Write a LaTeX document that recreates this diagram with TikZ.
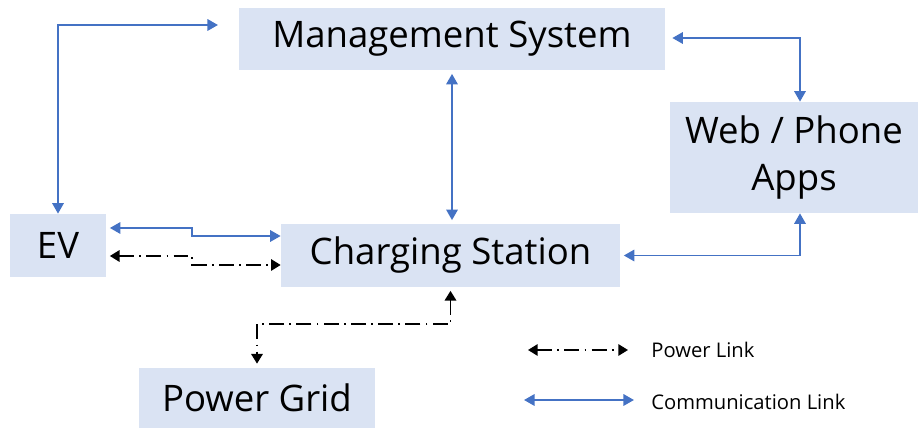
\documentclass[tikz,border=0pt]{standalone}
\usepackage{fontspec}
\setmainfont{Open Sans}
\usepackage{tikz}
\usetikzlibrary{arrows.meta,positioning}
\definecolor{boxfill}{HTML}{DAE3F3}
\definecolor{linkblue}{HTML}{4472C4}

\begin{document}
\begin{tikzpicture}[x=0.02cm, y=-0.02cm]
    % Setup the styles for the blocks and the links
    \tikzset{block style/.style={
        fill=boxfill,
        inner sep=0pt,
        align=center,
        font=\fontsize{20.8}{26}\selectfont},
      comm link/.style={
        draw=linkblue,
        line width=1.1pt,
        {Triangle[width=6.5pt,length=6pt]}-{Triangle[width=6.5pt,length=6pt]}},
      power link/.style={
        draw=black,
        line width=1pt,
        dash pattern=on 8.5pt off 3pt on 1pt off 3pt,
        {Triangle[width=6.5pt,length=5.5pt]}-{Triangle[width=6.5pt,length=5.5pt]}},
      legend text/.style={
        anchor=west,
        inner sep=0pt,
        font=\fontsize{11.5}{14}\selectfont}}
    \useasboundingbox (0,0) rectangle (920,428);

    % Draw the blocks
    \node[block style, minimum width=8.52cm, minimum height=1.24cm] at (452, 39)    (mgmt) {Management System};
    \node[block style, minimum width=4.96cm, minimum height=2.22cm] at (794, 157.5) (web)  {Web / Phone\\[1pt]Apps};
    \node[block style, minimum width=1.92cm, minimum height=1.26cm] at (58, 245.5)  (ev)   {EV};
    \node[block style, minimum width=6.78cm, minimum height=1.26cm] at (450.5, 255.5) (cs) {Charging Station};
    \node[block style, minimum width=4.72cm, minimum height=1.22cm] at (257, 398)   (pg)   {Power Grid};
    \coordinate (mgmtin) at (218, 25);

    % Connect the blocks with the communication links
    \draw[comm link] (ev.north) |- (mgmtin);
    \draw[comm link, shorten <=2pt, shorten >=2pt] (mgmt.south) -- (mgmt.south |- cs.north);
    \draw[comm link, shorten <=4pt] ([yshift=0.02cm]mgmt.east) -| ([xshift=0.12cm]web.north);
    \draw[comm link, shorten <=2pt] (cs.east) -| ([xshift=0.12cm]web.south);
    \draw[comm link, shorten <=2pt] ([yshift=0.35cm]ev.east) -- ++(86, 0) |- ([yshift=0.39cm]cs.west);

    % Connect the blocks with the power links
    \draw[power link, shorten <=2pt] ([yshift=-0.21cm]ev.east) -- ++(86, 0) |- ([yshift=-0.19cm]cs.west);
    \draw[power link, shorten <=2pt, shorten >=2pt] (cs.south) -- ++(0, 37) -| (pg.north);

    % Legend
    \coordinate (powera) at (528, 350);
    \coordinate (powerb) at (628, 350);
    \coordinate (comma)  at (524, 400);
    \coordinate (commb)  at (634, 400);
    \draw[power link] (powera) -- (powerb);
    \draw[comm link]  (comma) -- (commb);
    \node[legend text] at (651, 350) (powerlabel) {Power Link};
    \node[legend text] at (651, 402) (commlabel)  {Communication Link};
\end{tikzpicture}
\end{document}
